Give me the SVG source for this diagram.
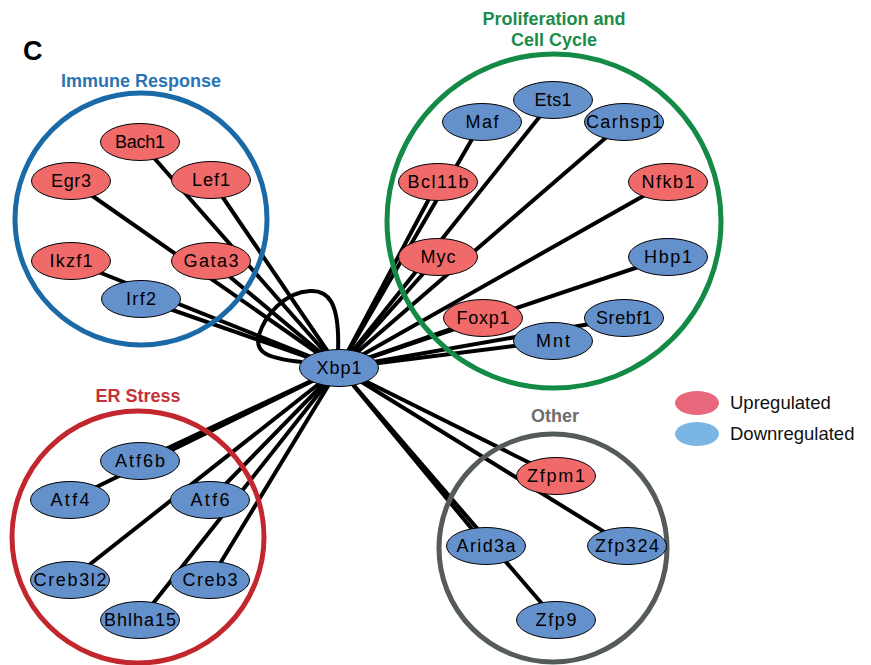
<svg xmlns="http://www.w3.org/2000/svg" width="871" height="665" viewBox="0 0 871 665">
<style>
.edge{stroke:#000;stroke-width:4;fill:none}
.up{fill:#f06a6a;stroke:#000;stroke-width:1}
.down{fill:#6490cc;stroke:#000;stroke-width:1}
.lbl{font-family:"Liberation Sans",Arial,sans-serif;font-size:18px;fill:#000;text-anchor:middle}
.grp{fill:none;stroke-width:5}
.title{font-family:"Liberation Sans",Arial,sans-serif;font-size:18px;font-weight:bold;text-anchor:middle}
.leg{font-family:"Liberation Sans",Arial,sans-serif;font-size:18.5px;fill:#111}
</style>
<rect width="871" height="665" fill="#fff"/>
<text x="23" y="60" font-family="Liberation Sans,Arial,sans-serif" font-size="27" font-weight="bold" textLength="22">C</text>

<g id="connectors">
<line class="edge" x1="339" y1="368" x2="140" y2="142"/>
<line class="edge" x1="339" y1="368" x2="211" y2="180"/>
<line class="edge" x1="339" y1="368" x2="71" y2="181"/>
<line class="edge" x1="339" y1="368" x2="211" y2="261"/>
<line class="edge" x1="339" y1="368" x2="71" y2="261"/>
<line class="edge" x1="339" y1="368" x2="141" y2="299"/>
<line class="edge" x1="339" y1="368" x2="482" y2="122"/>
<line class="edge" x1="339" y1="368" x2="553" y2="100"/>
<line class="edge" x1="339" y1="368" x2="624" y2="122"/>
<line class="edge" x1="339" y1="368" x2="438" y2="182"/>
<line class="edge" x1="339" y1="368" x2="668" y2="182"/>
<line class="edge" x1="339" y1="368" x2="438" y2="257"/>
<line class="edge" x1="339" y1="368" x2="668" y2="257"/>
<line class="edge" x1="339" y1="368" x2="483" y2="318"/>
<line class="edge" x1="339" y1="368" x2="624" y2="318"/>
<line class="edge" x1="339" y1="368" x2="553" y2="341"/>
<line class="edge" x1="339" y1="368" x2="140" y2="461"/>
<line class="edge" x1="339" y1="368" x2="70" y2="500"/>
<line class="edge" x1="339" y1="368" x2="210" y2="500"/>
<line class="edge" x1="339" y1="368" x2="70" y2="580"/>
<line class="edge" x1="339" y1="368" x2="210" y2="580"/>
<line class="edge" x1="339" y1="368" x2="140" y2="620"/>
<line class="edge" x1="339" y1="368" x2="556" y2="476"/>
<line class="edge" x1="339" y1="368" x2="627" y2="546"/>
<line class="edge" x1="339" y1="368" x2="486" y2="546"/>
<line class="edge" x1="339" y1="368" x2="556" y2="620"/>
<path class="edge" d="M338,352 C340,300 327,290 310,291 C285,292 265,315 259,335 C255,350 262,358 302,362"/>
</g>

<g id="group-immune">
<circle class="grp" cx="141" cy="219" r="126" stroke="#1b6aa8"/>
<text class="title" x="141" y="87" fill="#2a74b5">Immune Response</text>
</g>
<g id="group-prolif">
<circle class="grp" cx="554" cy="221" r="167" stroke="#138a45"/>
<text class="title" x="554" y="25" fill="#1a8c4a">Proliferation and</text>
<text class="title" x="554" y="46" fill="#1a8c4a">Cell Cycle</text>
</g>
<g id="group-er">
<circle class="grp" cx="138" cy="537" r="126" stroke="#c1272d"/>
<text class="title" x="138" y="402" fill="#c4323a">ER Stress</text>
</g>
<g id="group-other">
<circle class="grp" cx="553" cy="548" r="114" stroke="#555b5b"/>
<text class="title" x="555" y="422" fill="#6b6e6e">Other</text>
</g>

<g id="Xbp1"><ellipse class="down" cx="339" cy="368" rx="39.5" ry="18.5"/><text class="lbl" x="339" y="374" textLength="45">Xbp1</text></g>

<g id="Bach1"><ellipse class="up" cx="140" cy="142" rx="39.5" ry="18.5"/><text class="lbl" x="140" y="148" textLength="50">Bach1</text></g>
<g id="Egr3"><ellipse class="up" cx="71" cy="181" rx="39.5" ry="18.5"/><text class="lbl" x="71" y="187" textLength="40">Egr3</text></g>
<g id="Lef1"><ellipse class="up" cx="211" cy="180" rx="39.5" ry="18.5"/><text class="lbl" x="211" y="186" textLength="38">Lef1</text></g>
<g id="Ikzf1"><ellipse class="up" cx="71" cy="261" rx="39.5" ry="18.5"/><text class="lbl" x="71" y="267" textLength="43">Ikzf1</text></g>
<g id="Gata3"><ellipse class="up" cx="211" cy="261" rx="39.5" ry="18.5"/><text class="lbl" x="211" y="267" textLength="55">Gata3</text></g>
<g id="Irf2"><ellipse class="down" cx="141" cy="299" rx="39.5" ry="18.5"/><text class="lbl" x="141" y="305" textLength="30">Irf2</text></g>

<g id="Ets1"><ellipse class="down" cx="553" cy="100" rx="39.5" ry="18.5"/><text class="lbl" x="553" y="106" textLength="37">Ets1</text></g>
<g id="Maf"><ellipse class="down" cx="482" cy="122" rx="39.5" ry="18.5"/><text class="lbl" x="482" y="128" textLength="33">Maf</text></g>
<g id="Carhsp1"><ellipse class="down" cx="624" cy="122" rx="39.5" ry="18.5"/><text class="lbl" x="624" y="128" textLength="76">Carhsp1</text></g>
<g id="Bcl11b"><ellipse class="up" cx="438" cy="182" rx="39.5" ry="18.5"/><text class="lbl" x="438" y="188" textLength="61">Bcl11b</text></g>
<g id="Nfkb1"><ellipse class="up" cx="668" cy="182" rx="39.5" ry="18.5"/><text class="lbl" x="668" y="188" textLength="53">Nfkb1</text></g>
<g id="Myc"><ellipse class="up" cx="438" cy="257" rx="39.5" ry="18.5"/><text class="lbl" x="438" y="263" textLength="35">Myc</text></g>
<g id="Hbp1"><ellipse class="down" cx="668" cy="257" rx="39.5" ry="18.5"/><text class="lbl" x="668" y="263" textLength="48">Hbp1</text></g>
<g id="Foxp1"><ellipse class="up" cx="483" cy="318" rx="39.5" ry="18.5"/><text class="lbl" x="483" y="324" textLength="53">Foxp1</text></g>
<g id="Srebf1"><ellipse class="down" cx="624" cy="318" rx="39.5" ry="18.5"/><text class="lbl" x="624" y="324" textLength="56">Srebf1</text></g>
<g id="Mnt"><ellipse class="down" cx="553" cy="341" rx="39.5" ry="18.5"/><text class="lbl" x="553" y="347" textLength="34">Mnt</text></g>

<g id="Atf6b"><ellipse class="down" cx="140" cy="461" rx="39.5" ry="18.5"/><text class="lbl" x="140" y="467" textLength="50">Atf6b</text></g>
<g id="Atf4"><ellipse class="down" cx="70" cy="500" rx="39.5" ry="18.5"/><text class="lbl" x="70" y="506" textLength="39">Atf4</text></g>
<g id="Atf6"><ellipse class="down" cx="210" cy="500" rx="39.5" ry="18.5"/><text class="lbl" x="210" y="506" textLength="39">Atf6</text></g>
<g id="Creb3l2"><ellipse class="down" cx="70" cy="580" rx="39.5" ry="18.5"/><text class="lbl" x="70" y="586" textLength="73">Creb3l2</text></g>
<g id="Creb3"><ellipse class="down" cx="210" cy="580" rx="39.5" ry="18.5"/><text class="lbl" x="210" y="586" textLength="55">Creb3</text></g>
<g id="Bhlha15"><ellipse class="down" cx="140" cy="620" rx="39.5" ry="18.5"/><text class="lbl" x="140" y="626" textLength="72">Bhlha15</text></g>

<g id="Zfpm1"><ellipse class="up" cx="556" cy="476" rx="39.5" ry="18.5"/><text class="lbl" x="556" y="482" textLength="58">Zfpm1</text></g>
<g id="Arid3a"><ellipse class="down" cx="486" cy="546" rx="39.5" ry="18.5"/><text class="lbl" x="486" y="552" textLength="59">Arid3a</text></g>
<g id="Zfp324"><ellipse class="down" cx="627" cy="546" rx="39.5" ry="18.5"/><text class="lbl" x="627" y="552" textLength="64">Zfp324</text></g>
<g id="Zfp9"><ellipse class="down" cx="556" cy="620" rx="39.5" ry="18.5"/><text class="lbl" x="556" y="626" textLength="41">Zfp9</text></g>

<g id="legend">
<ellipse cx="697" cy="403" rx="22" ry="12" fill="#e8677a"/>
<text class="leg" x="730" y="409">Upregulated</text>
<ellipse cx="697" cy="434" rx="22" ry="12" fill="#7ab5e3"/>
<text class="leg" x="730" y="440">Downregulated</text>
</g>
</svg>
